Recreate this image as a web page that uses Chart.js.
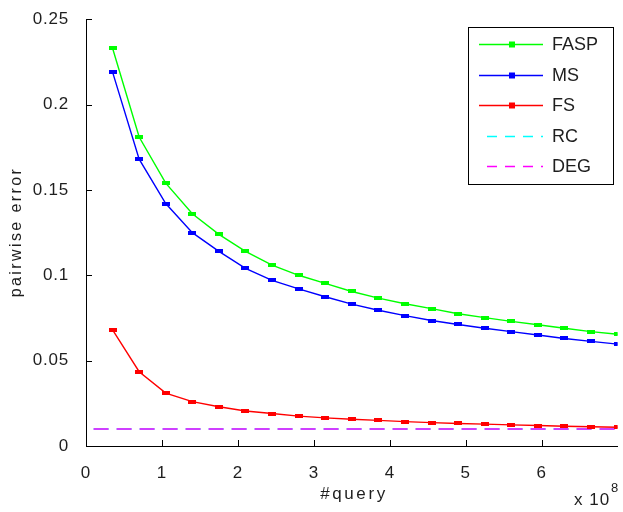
<!DOCTYPE html>
<html lang="en">
<head>
  <meta charset="UTF-8" />
  <title>pairwise error vs #query</title>
  <script src="https://cdn.jsdelivr.net/npm/chart.js"></script>
  <style>
    body { margin: 0; padding: 0; background: #fff; }
    #wrap { width: 623px; height: 512px; }
  </style>
</head>
<body>
  <div id="wrap"><canvas id="errChart" width="623" height="512"></canvas></div>

  <script>
    // #query, in units of 10^8
    const queries = [0.35, 0.7, 1.05, 1.4, 1.75, 2.1, 2.45, 2.8, 3.15, 3.5,
                     3.85, 4.2, 4.55, 4.9, 5.25, 5.6, 5.95, 6.3, 6.65, 7.0];
    const faspErr = [0.233, 0.181, 0.154, 0.136, 0.124, 0.114, 0.106, 0.100, 0.0953, 0.0905,
                     0.0866, 0.0833, 0.0805, 0.0775, 0.0752, 0.073, 0.071, 0.069, 0.067, 0.0655];
    const msErr   = [0.219, 0.168, 0.142, 0.125, 0.114, 0.104, 0.097, 0.092, 0.0874, 0.0831,
                     0.0795, 0.0764, 0.0735, 0.0712, 0.069, 0.067, 0.065, 0.063, 0.0613, 0.0597];
    const fsErr   = [0.068, 0.0435, 0.031, 0.026, 0.023, 0.0205, 0.019, 0.0175, 0.0165, 0.0157,
                     0.015, 0.0143, 0.0137, 0.0132, 0.0128, 0.0124, 0.012, 0.0116, 0.0113, 0.011];
    const flatX   = [0.1, 7.0];
    const rcErr   = [0.01, 0.01];
    const degErr  = [0.01, 0.01];
    const xTicks  = [0, 1, 2, 3, 4, 5, 6];
    const yTicks  = [0, 0.05, 0.1, 0.15, 0.2, 0.25];

    const FONT = '"Liberation Sans", Arial, sans-serif';
    const TEXT = '#1e1e1e';
    const pts = (xs, ys) => xs.map((x, i) => ({ x: x, y: ys[i] }));

    // small flat marker, like the caps in the original plot
    function marker(color) {
      const c = document.createElement('canvas');
      c.width = 8; c.height = 4;
      const g = c.getContext('2d');
      g.fillStyle = color;
      g.fillRect(0, 0, 8, 4);
      return c;
    }

    function markerSeries(label, xs, ys, color) {
      return {
        label: label,
        data: pts(xs, ys),
        borderColor: color,
        backgroundColor: color,
        borderWidth: 1.4,
        pointStyle: marker(color),
        pointRadius: 3,
        tension: 0,
        order: 1
      };
    }
    function dashSeries(label, xs, ys, color, order) {
      return {
        label: label,
        data: pts(xs, ys),
        borderColor: color,
        backgroundColor: color,
        borderWidth: 1.6,
        borderDash: [15, 8],
        pointRadius: 0,
        order: order
      };
    }

    const decor = {
      id: 'decor',
      beforeDraw(chart) {
        chart.ctx.letterSpacing = '0.8px';
      },
      afterDraw(chart) {
        const ctx = chart.ctx;
        const xs = chart.scales.x, ys = chart.scales.y;
        const area = chart.chartArea;
        ctx.save();
        ctx.letterSpacing = '0px';
        // inward ticks
        ctx.strokeStyle = '#000';
        ctx.lineWidth = 1;
        xTicks.forEach(v => {
          const px = Math.round(xs.getPixelForValue(v)) + 0.5;
          ctx.beginPath(); ctx.moveTo(px, area.bottom); ctx.lineTo(px, area.bottom - 6); ctx.stroke();
        });
        yTicks.forEach(v => {
          const py = Math.round(ys.getPixelForValue(v)) + 0.5;
          ctx.beginPath(); ctx.moveTo(area.left, py); ctx.lineTo(area.left + 6, py); ctx.stroke();
        });

        // axis titles
        ctx.fillStyle = TEXT;
        ctx.textAlign = 'center';
        ctx.textBaseline = 'middle';
        ctx.font = '17px ' + FONT;
        ctx.letterSpacing = '2.6px';
        ctx.fillText('#query', 354, 494);
        ctx.save();
        ctx.translate(17, 232);
        ctx.rotate(-Math.PI / 2);
        ctx.font = '16px ' + FONT;
        ctx.letterSpacing = '2.4px';
        ctx.fillText('pairwise error', 0, 0);
        ctx.restore();

        // x 10^8
        ctx.letterSpacing = '1px';
        ctx.textAlign = 'left';
        ctx.textBaseline = 'alphabetic';
        ctx.font = '17px ' + FONT;
        ctx.fillText('x 10', 574, 505);
        ctx.font = '13px ' + FONT;
        ctx.fillText('8', 611, 492);

        // legend
        ctx.letterSpacing = '0px';
        const box = { l: 468.5, t: 27.5, r: 613.5, b: 184.5 };
        ctx.fillStyle = '#fff';
        ctx.fillRect(box.l, box.t, box.r - box.l, box.b - box.t);
        ctx.strokeStyle = '#000';
        ctx.strokeRect(box.l, box.t, box.r - box.l, box.b - box.t);
        const rowY = [44, 75, 105, 136, 166];
        chart.data.datasets.forEach((ds, i) => {
          const y = rowY[i] + 0.5;
          ctx.strokeStyle = ds.borderColor;
          ctx.lineWidth = 1.5;
          if (ds.borderDash) {
            ctx.setLineDash([10, 8]);
            ctx.beginPath(); ctx.moveTo(487, y); ctx.lineTo(543, y); ctx.stroke();
            ctx.setLineDash([]);
          } else {
            ctx.beginPath(); ctx.moveTo(479, y); ctx.lineTo(543, y); ctx.stroke();
            ctx.fillStyle = ds.borderColor;
            ctx.fillRect(509, y - 3, 6, 6);
          }
          ctx.fillStyle = TEXT;
          ctx.font = '18px ' + FONT;
          ctx.textBaseline = 'middle';
          ctx.fillText(ds.label, 552, y + 1);
        });
        ctx.restore();
      }
    };

    new Chart(document.getElementById('errChart').getContext('2d'), {
      type: 'line',
      data: {
        datasets: [
          markerSeries('FASP', queries, faspErr, '#00ff00'),
          markerSeries('MS', queries, msErr, '#0000ff'),
          markerSeries('FS', queries, fsErr, '#ff0000'),
          dashSeries('RC', flatX, rcErr, '#00ffff', 3),
          dashSeries('DEG', flatX, degErr, '#ff00ff', 2)
        ]
      },
      options: {
        responsive: false,
        animation: false,
        layout: { padding: { top: 15, right: 1, left: 0, bottom: 0 } },
        plugins: { legend: { display: false }, tooltip: { enabled: false } },
        scales: {
          x: {
            type: 'linear',
            min: 0,
            max: 7,
            afterBuildTicks: s => { s.ticks = xTicks.map(v => ({ value: v })); },
            grid: { display: false },
            border: { display: true, color: '#000', width: 1 },
            ticks: { color: TEXT, font: { family: FONT, size: 17 }, padding: 9, maxRotation: 0 },
            afterFit: s => { s.height = 66; }
          },
          y: {
            min: 0,
            max: 0.25,
            afterBuildTicks: s => { s.ticks = yTicks.map(v => ({ value: v })); },
            grid: { display: false },
            border: { display: true, color: '#000', width: 1 },
            ticks: { color: TEXT, font: { family: FONT, size: 17 }, padding: 9,
                     callback: v => String(Math.round(v * 100) / 100) },
            afterFit: s => { s.width = 86; }
          }
        }
      },
      plugins: [decor]
    });
  </script>
</body>
</html>
